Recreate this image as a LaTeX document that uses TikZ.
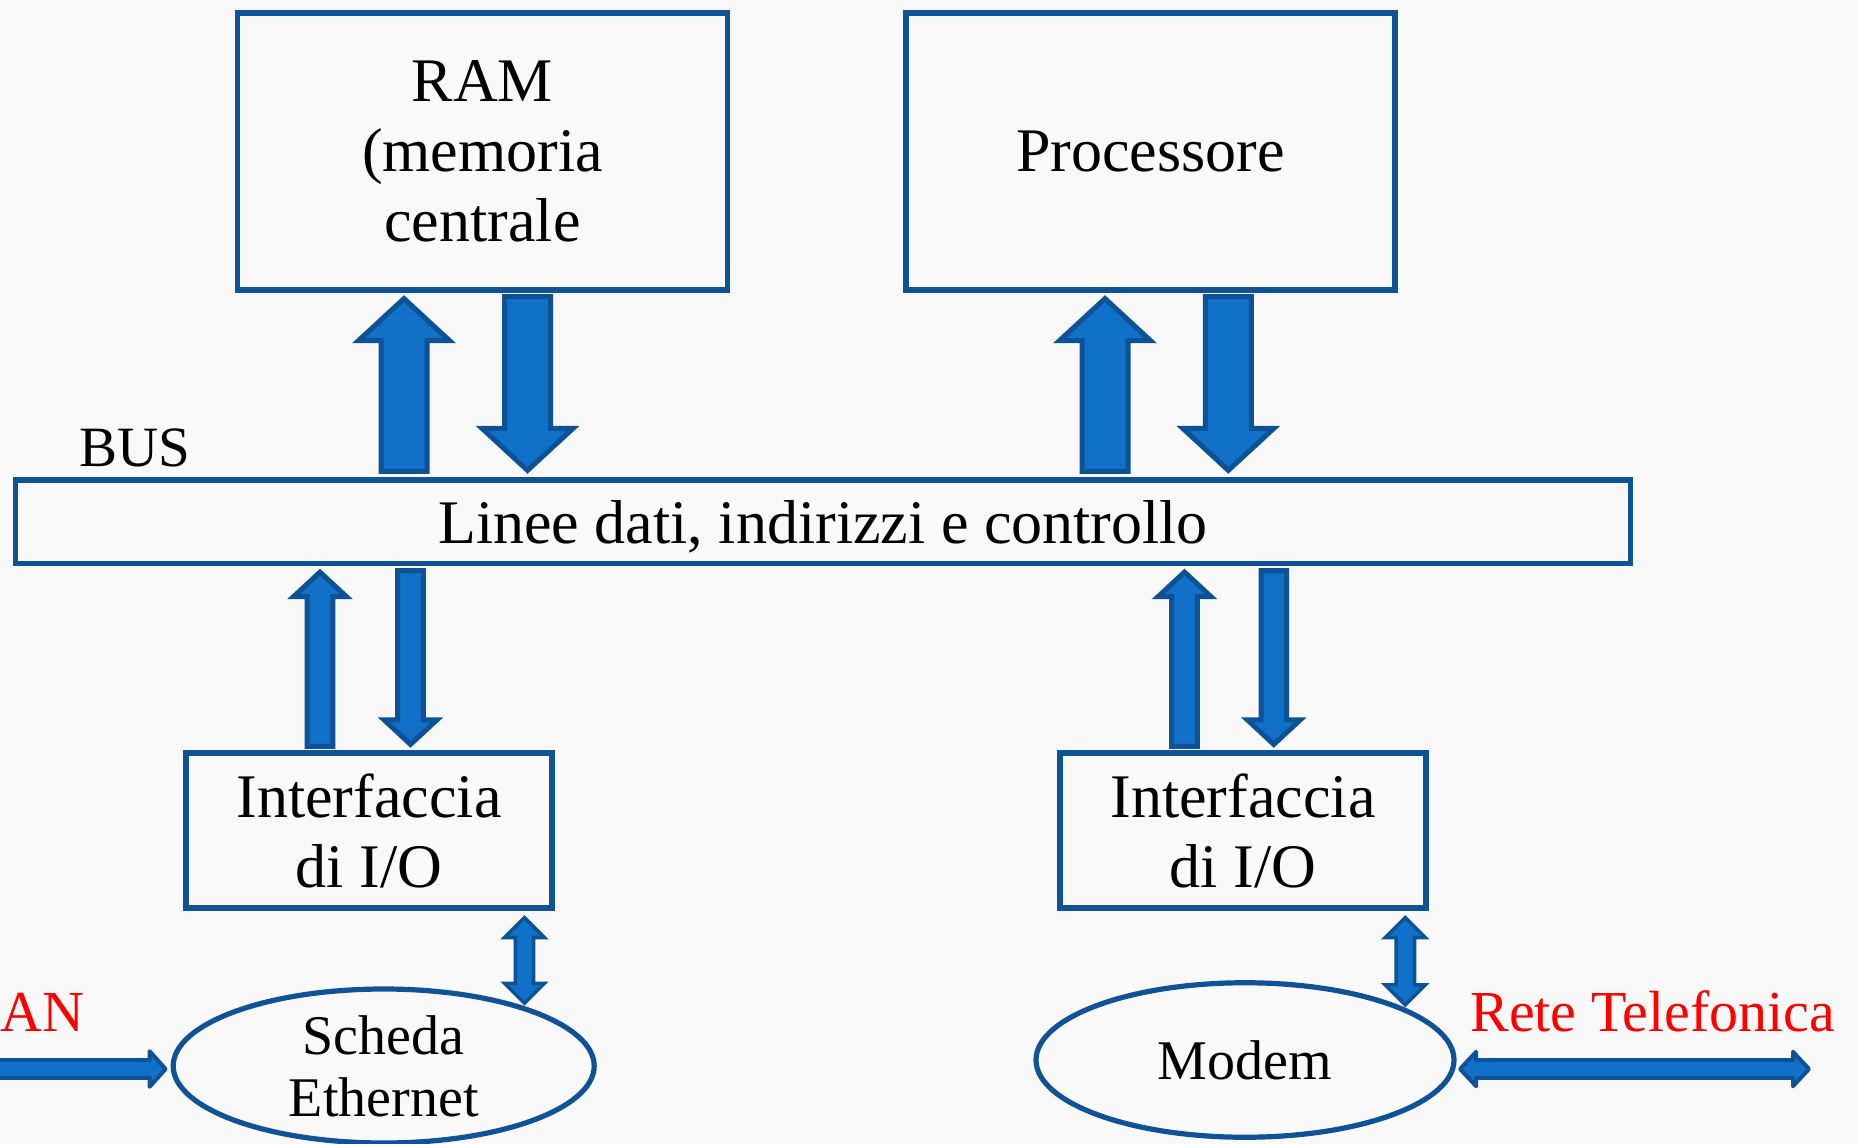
\documentclass[tikz,border=0pt]{standalone}
\usepackage{fontspec}
\setmainfont{Liberation Serif}
\usetikzlibrary{calc,shapes.geometric}
\definecolor{boxline}{RGB}{16,82,150}
\definecolor{arrfill}{RGB}{17,112,200}
\definecolor{arrline}{RGB}{12,82,148}
\definecolor{bgc}{RGB}{249,249,249}
% #1 options, #2 tail, #3 tip, #4 shaft half width, #5 head half width, #6 head length
\newcommand{\blkarrow}[6][]{%
  \coordinate (bh) at ($(#3)!#6!(#2)$);
  \draw[blk,#1] ($(#2)!#4!90:(#3)$) -- ($(bh)!#4!90:(#3)$) -- ($(bh)!#5!90:(#3)$) -- (#3)
    -- ($(bh)!#5!-90:(#3)$) -- ($(bh)!#4!-90:(#3)$) -- ($(#2)!#4!-90:(#3)$) -- cycle;
}
\newcommand{\dblarrow}[6][]{%
  \coordinate (bha) at ($(#2)!#6!(#3)$);
  \coordinate (bhb) at ($(#3)!#6!(#2)$);
  \draw[blk,#1] (#2) -- ($(bha)!#5!-90:(#2)$) -- ($(bha)!#4!-90:(#2)$) -- ($(bhb)!#4!90:(#3)$)
    -- ($(bhb)!#5!90:(#3)$) -- (#3) -- ($(bhb)!#5!-90:(#3)$) -- ($(bhb)!#4!-90:(#3)$)
    -- ($(bha)!#4!90:(#2)$) -- ($(bha)!#5!90:(#2)$) -- cycle;
}
\begin{document}
\begin{tikzpicture}[x=0.5pt,y=-0.5pt,
  box/.style={draw=boxline,line width=2.6pt,inner sep=0pt,align=center,font=\fontsize{31pt}{35pt}\selectfont},
  oval/.style={ellipse,draw=boxline,line width=2.6pt,inner sep=0pt,align=center,font=\fontsize{28pt}{31pt}\selectfont},
  blk/.style={fill=arrfill,draw=arrline,line width=2.5pt,line join=miter},
  smallblk/.style={line width=1.75pt},
  thinblk/.style={line width=2pt,line join=round},
  redlbl/.style={text=red,font=\fontsize{29pt}{34pt}\selectfont,inner sep=0pt}]
\useasboundingbox (0,0) rectangle (1857,1144);
\fill[bgc] (0,0) rectangle (1857,1144);
\clip (0,0) rectangle (1857,1144);

\node[box,minimum width=245pt,minimum height=138.5pt] (ram) at (482.5,151.5) {RAM\\(memoria\\centrale};
\node[box,minimum width=244.5pt,minimum height=138.5pt] (cpu) at (1150.5,151.5) {Processore};
\node[box,minimum width=807.5pt,minimum height=41.75pt,text depth=0pt] (bus) at (823,521.75) {Linee dati, indirizzi e controllo};
\node[anchor=base west,inner sep=0pt,font=\fontsize{28.5pt}{33pt}\selectfont] (buslbl) at (79,466.7) {BUS};
\node[box,minimum width=183pt,minimum height=77.5pt] (io1) at (369,830.5) {Interfaccia\\di I/O};
\node[box,minimum width=183pt,minimum height=77.5pt] (io2) at (1243,830.5) {Interfaccia\\di I/O};
\node[oval,minimum width=210.5pt,minimum height=77pt] (eth) at (383.7,1066) {Scheda\\Ethernet};
\node[oval,minimum width=209pt,minimum height=77.25pt] (modem) at (1245,1060) {Modem};
\node[redlbl,anchor=base west] (lan) at (0,1031.5) {AN};
\node[redlbl,anchor=base west] (tel) at (1470,1031.5) {Rete Telefonica};

% RAM <-> BUS
\coordinate (ramU) at ($(ram.south)+(-78.5,6)$);
\coordinate (busRU) at ($(bus.north -| ramU)+(0,-6)$);
\blkarrow{busRU}{ramU}{11.5pt}{22.75pt}{21pt}
\coordinate (ramD) at ($(ram.south)+(45,4)$);
\coordinate (busRD) at ($(bus.north -| ramD)+(0,-7)$);
\blkarrow{ramD}{busRD}{11.5pt}{22.75pt}{21pt}
% CPU <-> BUS
\coordinate (cpuU) at ($(cpu.south)+(-45.5,6)$);
\coordinate (busCU) at ($(bus.north -| cpuU)+(0,-6)$);
\blkarrow{busCU}{cpuU}{11.5pt}{22.75pt}{21pt}
\coordinate (cpuD) at ($(cpu.south)+(77.8,4)$);
\coordinate (busCD) at ($(bus.north -| cpuD)+(0,-7)$);
\blkarrow{cpuD}{busCD}{11.5pt}{22.75pt}{21pt}
% IO1 <-> BUS
\coordinate (io1U) at ($(io1.north)+(-49,-4)$);
\coordinate (bus1U) at ($(bus.south -| io1U)+(0,6)$);
\blkarrow{io1U}{bus1U}{6.4pt}{13.25pt}{12.3pt}
\coordinate (io1D) at ($(io1.north)+(41.5,-6)$);
\coordinate (bus1D) at ($(bus.south -| io1D)+(0,4.5)$);
\blkarrow{bus1D}{io1D}{6.4pt}{13.25pt}{12.3pt}
% IO2 <-> BUS
\coordinate (io2U) at ($(io2.north)+(-58.5,-4)$);
\coordinate (bus2U) at ($(bus.south -| io2U)+(0,6)$);
\blkarrow{io2U}{bus2U}{6.4pt}{13.25pt}{12.3pt}
\coordinate (io2D) at ($(io2.north)+(30.8,-6)$);
\coordinate (bus2D) at ($(bus.south -| io2D)+(0,4.5)$);
\blkarrow{bus2D}{io2D}{6.4pt}{13.25pt}{12.3pt}
% IO <-> devices
\coordinate (ethT) at ($(eth.23)+(0,-3)$);
\coordinate (io1B) at ($(io1.south -| ethT)+(0,7)$);
\dblarrow[smallblk]{io1B}{ethT}{4.6pt}{10pt}{10pt}
\coordinate (modT) at ($(modem.18)+(0,-3)$);
\coordinate (io2B) at ($(io2.south -| modT)+(0,7)$);
\dblarrow[smallblk]{io2B}{modT}{4.6pt}{10pt}{10pt}
% external links
\coordinate (lanS) at (-20,1069);
\coordinate (ethW) at ($(eth.west)+(-5,3)$);
\blkarrow[thinblk]{lanS}{ethW}{4.4pt}{8.9pt}{8pt}
\coordinate (modE) at ($(modem.east)+(3.5,9)$);
\coordinate (telE) at (1809,1069);
\dblarrow[thinblk]{modE}{telE}{4.4pt}{8.6pt}{8pt}
\end{tikzpicture}
\end{document}
